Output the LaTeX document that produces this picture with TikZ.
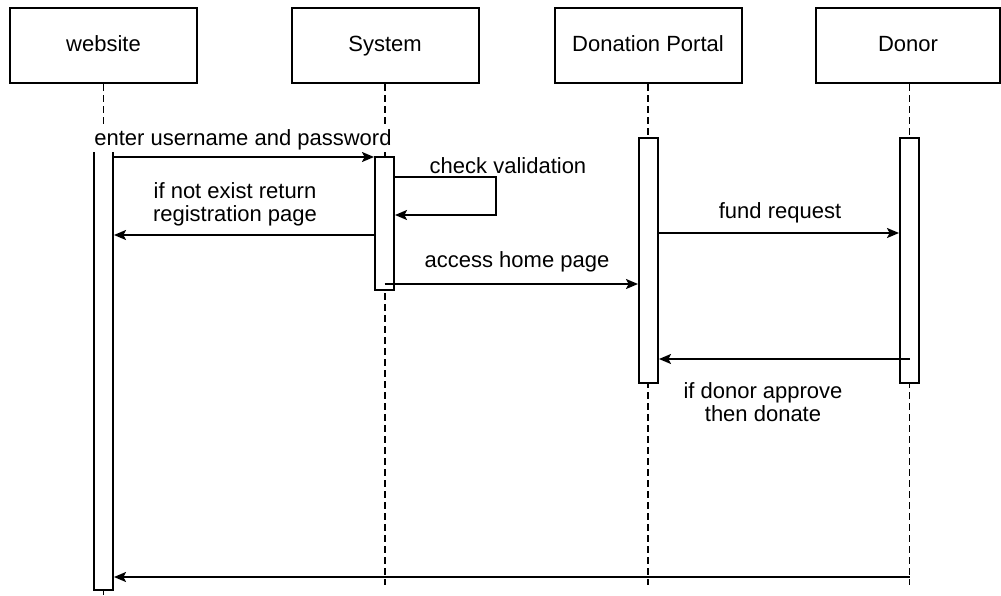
\documentclass[tikz,border=0pt]{standalone}
\usepackage{fontspec}
\setmainfont{Liberation Sans}
\usetikzlibrary{positioning}
\usetikzlibrary{arrows.meta}
\usetikzlibrary{fit}

\begin{document}
\begin{tikzpicture}[x=0.5pt, y=-0.5pt,
    every node/.style={font=\fontsize{11}{11.5}\selectfont},
    actor/.style={draw, line width=1pt, minimum width=93.5pt, minimum height=37.5pt, inner sep=0pt, text height=8pt, text depth=2.5pt},
    act/.style={draw, fill=white, line width=1pt, inner sep=0pt},
    life/.style={line width=0.7pt, dash pattern=on 3.5pt off 2pt},
    msg/.style={-{Stealth[length=6pt, width=5pt, inset=1.3pt]}, line width=1pt},
    lbl/.style={align=center, inner sep=1pt}]
            \useasboundingbox (0,0) rectangle (1001,595);
            % Participantes
            \node[actor] (website) at (103.5,45.5) {website};
            \node[actor] (system) at (385,45.5) {System};
            \node[actor] (portal) at (648,45.5) {Donation Portal};
            \node[actor, minimum width=92pt] (donor) at (908,45.5) {Donor};

            % Lineas de vida
            \coordinate (webend) at (103.5,595);
            \coordinate (sysend) at (385,585);
            \coordinate (portend) at (648,585);
            \coordinate (donend) at (909.5,585);
            \draw[life] (website.south) -- (webend);
            \draw[life] (system.south) -- (sysend);
            \draw[life] (portal.south) -- (portend);
            \draw[life] (donor.south -| donend) -- (donend);

            % Activaciones
            \node[act, fit={(94,138) (113,590)}] (webact) {};
            \node[act, fit={(375,157) (394,290)}] (sysact) {};
            \node[act, fit={(639,138) (658,383)}] (portact) {};
            \node[act, fit={(900,138) (919,383)}] (donact) {};

            % Mensajes
            \draw[msg] (webact.east |- 0,157) -- (sysact.west |- 0,157);
            \coordinate (loop) at (496,215);
            \draw[msg] (sysact.east |- 0,177) -| (loop) -- (sysact.east |- loop);
            \draw[msg] (sysact.west |- 0,235) -- (webact.east |- 0,235);
            \draw[msg] (sysact.center |- 0,284) -- (portact.west |- 0,284);
            \draw[msg] (portact.east |- 0,233) -- (donact.west |- 0,233);
            \draw[msg] (donact.center |- 0,359) -- (portact.east |- 0,359);
            \draw[msg] (donact.center |- 0,577) -- (webact.east |- 0,577);

            % Etiquetas
            \node[lbl, fill=white] (lenter) at (243,140) {enter username and password};
            \node[lbl] (lcheck) at (508,166) {check validation};
            \node[lbl] (lnot) at (235,204.5) {if not exist return\\registration page};
            \node[lbl] (lhome) at (517,262) {access home page};
            \node[lbl] (lfund) at (780,213) {fund request};
            \node[lbl] (lapprove) at (763,402.5) {if donor approve\\then donate};
          \end{tikzpicture}
\end{document}
